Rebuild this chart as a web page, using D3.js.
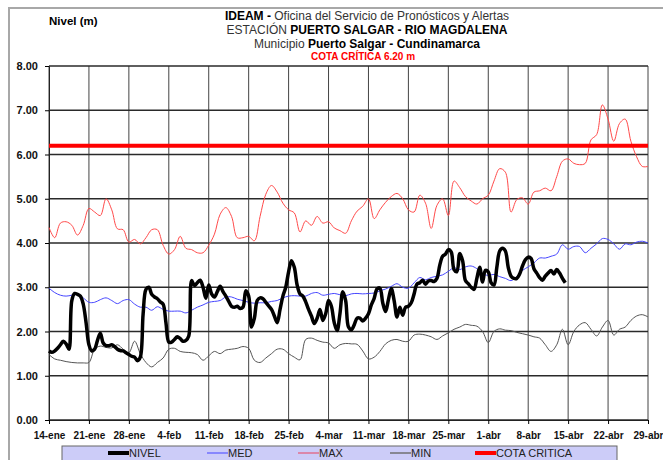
<!DOCTYPE html>
<html>
<head>
<meta charset="utf-8">
<script src="https://cdn.jsdelivr.net/npm/d3@7"></script>
<style>
  body { margin: 0; background: #fff; }
  text { font-family: "Liberation Sans", Arial, sans-serif; }
</style>
</head>
<body>
<div id="chart"></div>
<script>
// x tick labels, one per week starting 14-ene
const tickLabels = ['14-ene', '21-ene', '28-ene', '4-feb', '11-feb', '18-feb', '25-feb', '4-mar',
    '11-mar', '18-mar', '25-mar', '1-abr', '8-abr', '15-abr', '22-abr', '29-abr'];

// daily values (day 0 = 14-ene)
const maxVals = [4.35, 4.12, 4.45, 4.48, 4.4, 4.18, 4.4, 4.78, 4.7, 4.62, 5.0, 4.75, 4.32, 4.3, 4.02, 4.08, 3.98, 4.12, 4.3, 4.3, 3.95, 3.75, 3.85, 4.15, 3.88, 3.85, 3.78, 3.78,
    3.95, 4.2, 4.65, 4.8, 4.6, 4.12, 4.12, 4.15, 4.05, 4.6, 5.1, 5.3, 5.15, 4.9, 4.75, 4.68, 4.25, 4.5, 4.4, 4.6, 4.45, 4.48, 4.34, 4.28, 4.22, 4.5, 4.72,
    4.83, 5.0, 4.55, 4.75, 4.92, 5.05, 5.12, 5.0, 4.75, 4.7, 5.08, 4.9, 4.33, 4.85, 5.0, 4.62, 5.4, 5.25, 5.05, 4.95,
    4.88, 5.0, 5.08, 5.4, 5.68, 5.6, 4.7, 4.98, 5.02, 4.88, 5.15, 5.18, 5.24, 5.18, 5.5, 5.85, 5.9, 5.8, 5.77, 5.8,
    6.33, 6.45, 7.12, 6.8, 6.3, 6.7, 6.8, 6.3, 5.95, 5.73, 5.73];

const medVals = [2.98, 2.88, 2.82, 2.8, 2.82, 2.84, 2.76, 2.66, 2.66, 2.72, 2.76, 2.7, 2.63, 2.7, 2.72, 2.62, 2.55, 2.55, 2.48, 2.56, 2.5, 2.46, 2.46, 2.46, 2.42, 2.48, 2.55, 2.6,
    2.66, 2.68, 2.7, 2.78, 2.78, 2.73, 2.7, 2.66, 2.64, 2.65, 2.65, 2.68, 2.7, 2.76, 2.8, 2.81, 2.8, 2.8, 2.86, 2.88, 2.82, 2.84, 2.86, 2.83, 2.81, 2.85, 2.86,
    2.85, 2.86, 2.87, 2.92, 2.96, 3.02, 3.08, 3.0, 2.98, 3.1, 3.22, 3.17, 3.22, 3.25, 3.28, 3.36, 3.44, 3.4, 3.46, 3.48,
    3.42, 3.3, 3.27, 3.29, 3.24, 3.2, 3.15, 3.24, 3.38, 3.46, 3.55, 3.66, 3.66, 3.7, 3.75, 3.96, 3.86, 3.92, 3.92, 3.78,
    3.88, 3.98, 4.1, 4.08, 3.98, 3.86, 3.98, 3.96, 4.02, 4.04, 4.0];

const minVals = [1.48, 1.38, 1.35, 1.32, 1.3, 1.29, 1.29, 1.3, 1.6, 1.67, 1.64, 1.63, 1.7, 1.6, 1.52, 1.78, 1.5, 1.3, 1.2, 1.3, 1.4, 1.6, 1.62, 1.55, 1.53, 1.52, 1.48, 1.35,
    1.45, 1.55, 1.5, 1.58, 1.6, 1.62, 1.66, 1.62, 1.35, 1.3, 1.4, 1.5, 1.6, 1.6, 1.5, 1.42, 1.36, 1.82, 1.85, 1.8, 1.76, 1.74, 1.62, 1.7, 1.73, 1.72, 1.71,
    1.56, 1.38, 1.42, 1.55, 1.72, 1.8, 1.82, 1.78, 1.78, 1.92, 1.94, 1.92, 1.88, 1.82, 1.9, 1.97, 2.05, 2.1, 2.16, 2.14,
    2.12, 2.0, 1.75, 2.0, 2.06, 2.03, 2.02, 1.98, 1.95, 1.92, 1.88, 1.85, 1.7, 1.55, 1.7, 2.05, 1.7, 2.0, 2.15, 2.2,
    2.05, 1.9, 2.1, 2.25, 1.92, 2.05, 2.1, 2.25, 2.35, 2.38, 2.33];

// observed level, two readings a day (index / 2 = day)
const nivelVals = [
    1.56, 1.53, 1.56, 1.62, 1.7, 1.78, 1.72, 1.6, 2.7, 2.86, 2.84, 2.8, 2.62, 2.2,
    1.7, 1.56, 1.6, 1.8, 1.96, 1.74, 1.68, 1.68, 1.7, 1.66, 1.6, 1.57, 1.56, 1.52,
    1.48, 1.44, 1.42, 1.34, 1.42, 2.4, 2.95, 3.0, 2.84, 2.78, 2.74, 2.67, 2.62, 2.2,
    1.76, 1.76, 1.82, 1.88, 1.84, 1.78, 1.8, 1.9, 3.15, 3.04, 3.1, 3.16, 3.0, 2.75,
    3.05, 2.85, 2.78, 2.9, 3.02, 2.9, 2.8, 2.68, 2.57, 2.55, 2.57, 2.52, 2.55, 2.92,
    2.8, 2.1, 2.3, 2.7, 2.76, 2.74, 2.66, 2.58, 2.5, 2.35, 2.2, 2.5, 2.8, 3.0,
    3.35, 3.6, 3.45, 3.05, 2.85, 2.8, 2.67, 2.5, 2.35, 2.18, 2.3, 2.5, 2.25, 2.4,
    2.7, 2.57, 2.2, 2.02, 2.4, 2.9, 2.7, 2.1, 2.04, 2.15, 2.3, 2.3, 2.24, 2.3,
    2.4, 2.6, 2.75, 2.96, 2.98, 2.65, 2.45, 2.72, 2.97, 2.7, 2.33, 2.55, 2.37, 2.55,
    2.57, 2.65, 2.85, 3.07, 3.1, 3.16, 3.07, 3.14, 3.15, 3.13, 3.2, 3.5, 3.7, 3.75,
    3.85, 3.8, 3.4, 3.35, 3.76, 3.6, 3.15, 3.08, 3.0, 2.95, 3.2, 3.45, 3.12, 3.38,
    3.35, 3.1, 3.05, 3.45, 3.82, 3.88, 3.82, 3.45, 3.25, 3.2, 3.2, 3.3, 3.48, 3.62,
    3.68, 3.65, 3.42, 3.32, 3.22, 3.16, 3.25, 3.32, 3.38, 3.3, 3.4, 3.32, 3.2, 3.1];

const cotaCritica = 6.2;

const svgWidth = 663;
const svgHeight = 460;

const svg = d3.select('#chart')
    .append('svg')
    .attr('width', svgWidth)
    .attr('height', svgHeight);

// outer frame
svg.append('rect')
    .attr('x', 9).attr('y', 8)
    .attr('width', 700).attr('height', 500)
    .attr('fill', 'none')
    .attr('stroke', '#a8a8a8')
    .attr('stroke-width', 2);

// scales
const x = d3.scaleLinear().domain([0, 105]).range([49, 648]);
const y = d3.scaleLinear().domain([0, 8]).range([420, 66]);
const tickDays = tickLabels.map((d, i) => i * 7);

// grid
svg.append('g')
    .selectAll('line')
    .data(tickDays)
    .enter()
    .append('line')
    .attr('x1', d => x(d)).attr('x2', d => x(d))
    .attr('y1', y(0)).attr('y2', y(8))
    .attr('stroke', '#444')
    .attr('stroke-width', 1);

svg.append('g')
    .selectAll('line')
    .data(d3.range(0, 9))
    .enter()
    .append('line')
    .attr('x1', x(0)).attr('x2', x(105))
    .attr('y1', d => y(d)).attr('y2', d => y(d))
    .attr('stroke', '#2a2a2a')
    .attr('stroke-width', 1.5);

// axes
const leftAxis = d3.axisLeft(y)
    .tickValues(d3.range(0, 9))
    .tickFormat(d3.format('.2f'))
    .tickSize(4)
    .tickPadding(7);

svg.append('g')
    .attr('transform', `translate(${x(0)},0)`)
    .call(leftAxis)
    .call(g => g.select('.domain').attr('stroke', '#222'))
    .call(g => g.selectAll('text').attr('font-size', 11).attr('font-weight', 'bold').attr('fill', '#111')
        .style('font-family', '"Liberation Sans", Arial, sans-serif'));

const bottomAxis = d3.axisBottom(x)
    .tickValues(tickDays)
    .tickFormat((d, i) => tickLabels[i])
    .tickSize(4)
    .tickPadding(8);

svg.append('g')
    .attr('transform', `translate(0,${y(0)})`)
    .call(bottomAxis)
    .call(g => g.select('.domain').attr('stroke', '#222'))
    .call(g => g.selectAll('text').attr('font-size', 10).attr('font-weight', 'bold').attr('fill', '#111')
        .style('font-family', '"Liberation Sans", Arial, sans-serif'));

// series
const line = d3.line()
    .x(d => x(d[0]))
    .y(d => y(d[1]))
    .curve(d3.curveCatmullRom.alpha(0.5));

const daily = vals => vals.map((v, i) => [i, v]);

svg.append('path')
    .datum(daily(maxVals))
    .attr('d', line)
    .attr('fill', 'none')
    .attr('stroke', '#ff4a4a')
    .attr('stroke-width', 1);

svg.append('path')
    .datum(daily(minVals))
    .attr('d', line)
    .attr('fill', 'none')
    .attr('stroke', '#555')
    .attr('stroke-width', 1);

svg.append('path')
    .datum(daily(medVals))
    .attr('d', line)
    .attr('fill', 'none')
    .attr('stroke', '#4646ff')
    .attr('stroke-width', 1);

svg.append('path')
    .datum(nivelVals.map((v, i) => [i / 2, v]))
    .attr('d', line)
    .attr('fill', 'none')
    .attr('stroke', '#000')
    .attr('stroke-width', 3.5)
    .attr('stroke-linejoin', 'round');

svg.append('line')
    .attr('x1', x(0)).attr('x2', x(105))
    .attr('y1', y(cotaCritica)).attr('y2', y(cotaCritica))
    .attr('stroke', '#ff0000')
    .attr('stroke-width', 4);

// titles
svg.append('text')
    .attr('x', 49).attr('y', 25)
    .attr('font-size', 11.5)
    .attr('font-weight', 'bold')
    .text('Nivel (m)');

const titles = [
    [['IDEAM - ', 'bold'], ['Oficina del Servicio de Pronósticos y Alertas', 'normal']],
    [['ESTACIÓN ', 'normal'], ['PUERTO SALGAR - RIO MAGDALENA', 'bold']],
    [['Municipio ', 'normal'], ['Puerto Salgar - Cundinamarca', 'bold']]
];
const titleY = [20, 34, 48];

titles.forEach((parts, i) => {
    let t = svg.append('text')
        .attr('x', 367)
        .attr('y', titleY[i])
        .attr('text-anchor', 'middle')
        .attr('font-size', 12);
    parts.forEach(p => {
        t.append('tspan')
            .attr('font-weight', p[1])
            .attr('fill', p[1] === 'bold' ? '#000' : '#333')
            .text(p[0]);
    });
});

svg.append('text')
    .attr('x', 363).attr('y', 60)
    .attr('text-anchor', 'middle')
    .attr('font-size', 10)
    .attr('font-weight', 'bold')
    .attr('fill', '#ff0000')
    .text('COTA CRÍTICA 6.20 m');

// legend
const legendNames = ['NIVEL', 'MED', 'MAX', 'MIN', 'COTA CRITICA'];
const legendColors = ['#000', '#7070ff', '#e07090', '#707070', '#ff0000'];
const legendWidths = [4, 1.5, 1.5, 1.5, 4];
const legendX = [108, 207, 298, 390, 475];

svg.append('rect')
    .attr('x', 62).attr('y', 446)
    .attr('width', 555).attr('height', 20)
    .attr('fill', '#ccccf8')
    .attr('stroke', '#666');

let legend = svg.append('g');
legendNames.forEach((name, i) => {
    legend.append('line')
        .attr('x1', legendX[i]).attr('x2', legendX[i] + 21)
        .attr('y1', 453).attr('y2', 453)
        .attr('stroke', legendColors[i])
        .attr('stroke-width', legendWidths[i]);
    legend.append('text')
        .attr('x', legendX[i] + 21)
        .attr('y', 457)
        .attr('font-size', 11)
        .attr('fill', '#222')
        .text(name);
});
</script>
</body>
</html>
